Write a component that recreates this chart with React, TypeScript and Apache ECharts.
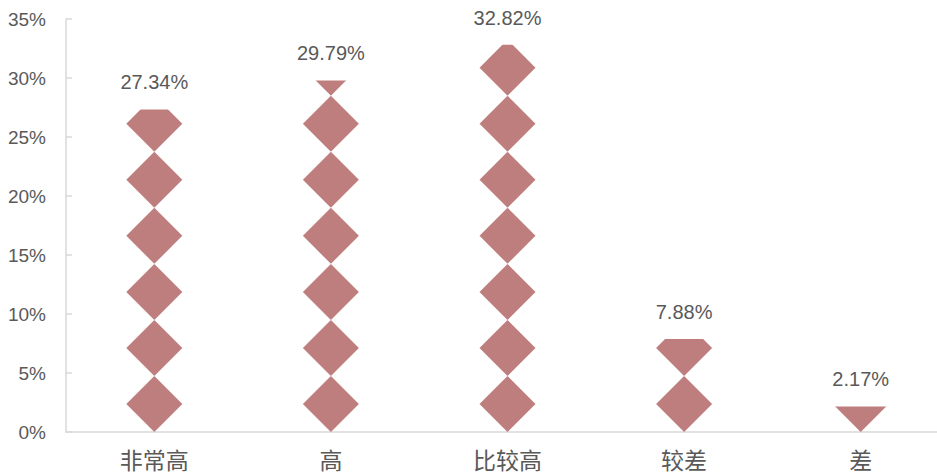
import React, { useEffect, useRef } from "react";
import * as echarts from "echarts";

const categories = ["非常高", "高", "比较高", "较差", "差"];
const values = [27.34, 29.79, 32.82, 7.88, 2.17];
const yTicks = [0, 5, 10, 15, 20, 25, 30, 35];

const BAR_COLOR = "#BF7E7E";
const TEXT_COLOR = "#595959";
const NUM_FONT = "'Liberation Sans Narrow', 'Liberation Sans', Arial, sans-serif";
const CJK_FONT = "'Noto Sans CJK SC', sans-serif";

export default function App() {
  const ref = useRef<HTMLDivElement>(null);
  useEffect(() => {
    if (!ref.current) return;
    const chart = echarts.init(ref.current, null, { renderer: "svg" });
    chart.setOption({
      animation: false,
      grid: { left: 66, top: 19, bottom: 43, right: 0, containLabel: false },
      xAxis: {
        type: "category",
        data: categories,
        axisLine: { show: true, lineStyle: { color: "#d9d9d9", width: 1.5 } },
        axisTick: { show: false },
        axisLabel: {
          color: TEXT_COLOR,
          fontSize: 23,
          fontFamily: CJK_FONT,
          margin: 15,
        },
      },
      yAxis: {
        type: "value",
        min: yTicks[0],
        max: yTicks[yTicks.length - 1],
        interval: 5,
        splitLine: { show: false },
        axisLine: { show: true, lineStyle: { color: "#d9d9d9", width: 1.5 } },
        axisTick: { show: true, inside: true, length: 6, lineStyle: { color: "#d9d9d9", width: 1.5 } },
        axisLabel: {
          color: TEXT_COLOR,
          fontSize: 19,
          fontFamily: NUM_FONT,
          margin: 20,
          formatter: (v: number) => v + "%",
        },
      },
      series: [
        {
          type: "pictorialBar",
          data: values,
          symbol: "diamond",
          symbolSize: [56, 56],
          symbolRepeat: 8,
          symbolBoundingData: 38,
          symbolClip: true,
          symbolPosition: "start",
          itemStyle: { color: BAR_COLOR },
          z: 3,
        },
        {
          type: "bar",
          data: values,
          barWidth: 56,
          itemStyle: { color: "rgba(0,0,0,0)" },
          silent: true,
          z: 2,
          label: {
            show: true,
            position: "top",
            distance: 17,
            color: TEXT_COLOR,
            fontSize: 20,
            fontFamily: NUM_FONT,
            formatter: (p: any) => p.value.toFixed(2) + "%",
          },
        },
      ],
    });
    return () => chart.dispose();
  }, []);
  return (
    <div style={{ width: 937, height: 475, position: "absolute", left: 0, top: 0, overflow: "hidden" }}>
      <div ref={ref} style={{ width: 949, height: 475 }} />
    </div>
  );
}
